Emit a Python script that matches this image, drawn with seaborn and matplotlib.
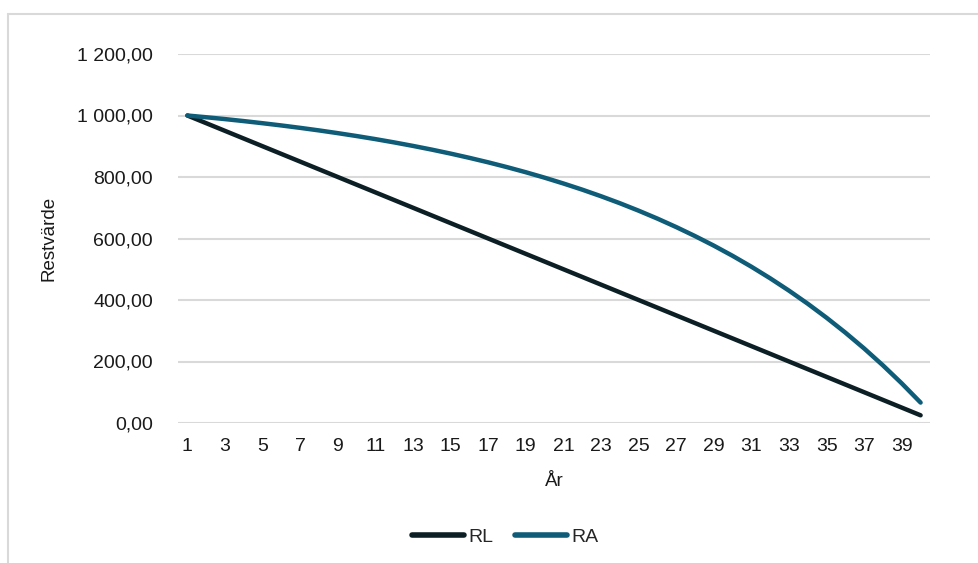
import matplotlib
matplotlib.use("Agg")
import matplotlib.pyplot as plt
from matplotlib.lines import Line2D
from matplotlib.ticker import FuncFormatter
import seaborn as sns
import pandas as pd

# Residual value per year: linear (RL) and annuity (RA) depreciation
years = list(range(1, 41))
rl = [1000, 975, 950, 925, 900, 875, 850, 825, 800, 775,
      750, 725, 700, 675, 650, 625, 600, 575, 550, 525,
      500, 475, 450, 425, 400, 375, 350, 325, 300, 275,
      250, 225, 200, 175, 150, 125, 100, 75, 50, 25]
ra = [1000.0, 994.3, 988.3, 981.8, 974.9, 967.6, 959.8, 951.5, 942.6, 933.2,
      923.2, 912.5, 901.1, 889.0, 876.1, 862.3, 847.7, 832.1, 815.5, 797.8,
      778.9, 758.9, 737.5, 714.8, 690.5, 664.7, 637.2, 607.9, 576.8, 543.6,
      508.2, 470.5, 430.4, 387.7, 342.2, 293.8, 242.2, 187.2, 128.7, 66.4]
series_names = ["RL", "RA"]
series_colors = ["#0C1F25", "#0E5C78"]
x_ticks = list(range(1, 41, 2))
y_ticks = [0, 200, 400, 600, 800, 1000, 1200]

df = pd.DataFrame({"År": years * 2,
                   "Restvärde": rl + ra,
                   "Serie": ["RL"] * len(years) + ["RA"] * len(years)})

sns.set_theme(style="white")
plt.rcParams["font.family"] = ["Liberation Sans", "DejaVu Sans"]

fig = plt.figure(figsize=(9.79, 5.63), dpi=100)
ax = fig.add_axes([178 / 979, 1 - 423 / 563, (930 - 178) / 979, (423 - 54) / 563])

sns.lineplot(data=df, x="År", y="Restvärde", hue="Serie", hue_order=series_names,
             palette=series_colors, linewidth=3.2, ax=ax, legend=False,
             solid_capstyle="round")

ax.set_xlim(0.5, 40.5)
ax.set_ylim(0, 1200)
ax.set_xticks(x_ticks)
ax.set_yticks(y_ticks)


def sv_fmt(v, _pos):
    s = f"{v:,.2f}"
    return s.replace(",", " ").replace(".", ",")


ax.yaxis.set_major_formatter(FuncFormatter(sv_fmt))
ax.tick_params(axis="both", length=0, labelsize=14, colors="#1a1a1a")
ax.tick_params(axis="y", pad=18)
ax.tick_params(axis="x", pad=11)
ax.yaxis.grid(True, color="#d9d9d9", linewidth=1.5)
ax.set_axisbelow(True)
for sp in ax.spines.values():
    sp.set_visible(False)

ax.set_xlabel("År", fontsize=13.5, color="#1a1a1a", labelpad=13)
ax.set_ylabel("Restvärde", fontsize=13.5, color="#1a1a1a", labelpad=14)

handles = [Line2D([0], [0], color=c, lw=4, solid_capstyle="round") for c in series_colors]
fig.legend(handles, series_names, loc="center", bbox_to_anchor=(505 / 979, 1 - 537 / 563),
           ncol=2, frameon=False, fontsize=14, handlelength=2.7, handletextpad=0.2,
           columnspacing=1.1)

# light chart border on top and left
fig.add_artist(Line2D([8 / 979, 1], [1 - 14 / 563, 1 - 14 / 563], color="#d9d9d9", lw=1.5,
                      transform=fig.transFigure))
fig.add_artist(Line2D([8 / 979, 8 / 979], [0, 1 - 14 / 563], color="#d9d9d9", lw=1.5,
                      transform=fig.transFigure))

fig.savefig("out.png", dpi=100, facecolor="white")
